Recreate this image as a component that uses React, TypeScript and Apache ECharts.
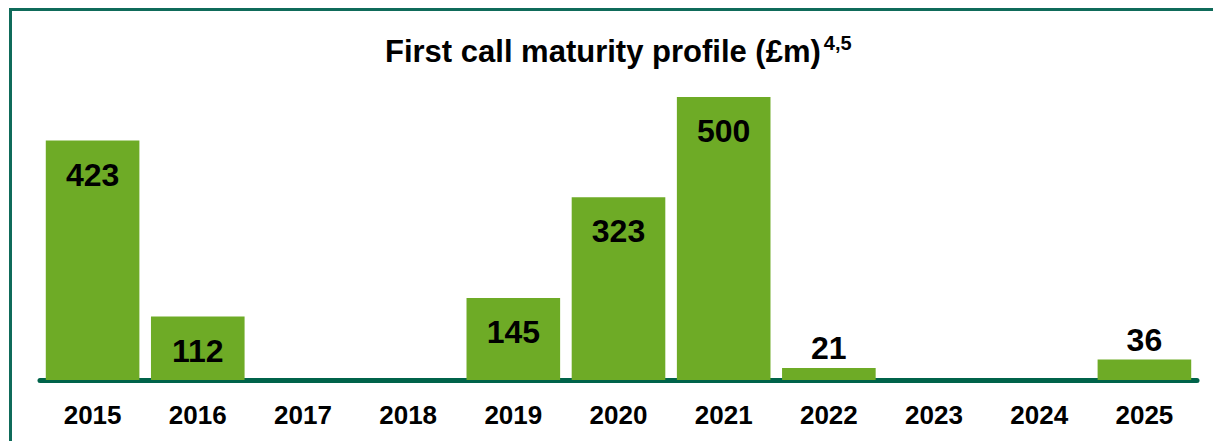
import React, { useEffect, useRef } from "react";
import * as echarts from "echarts";

const categories = ["2015", "2016", "2017", "2018", "2019", "2020", "2021", "2022", "2023", "2024", "2025"];
const values = [423, 112, 0, 0, 145, 323, 500, 21, 0, 0, 36];
const insideThreshold = 100;

export default function App() {
  const ref = useRef<HTMLDivElement>(null);
  useEffect(() => {
    const chart = echarts.init(ref.current!, null, { renderer: "svg" });
    const font = "'Liberation Sans', Arial, sans-serif";
    chart.setOption({
      animation: false,
      backgroundColor: "#ffffff",
      title: {
        text: "{a|First call maturity profile (£m)}{b|4,5}",
        left: 380,
        top: 28,
        textStyle: {
          rich: {
            a: { fontFamily: font, fontWeight: "bold", fontSize: 31, color: "#000000", lineHeight: 36 },
            b: { fontFamily: font, fontWeight: "bold", fontSize: 20, color: "#000000", verticalAlign: "top", lineHeight: 36, padding: [0, 0, 12, 3] },
          },
        },
      },
      graphic: [
        {
          type: "polyline",
          shape: { points: [[10.5, 441], [10.5, 9.5], [1213, 9.5]] },
          style: { stroke: "#0f6b5a", lineWidth: 3, fill: "none" },
        },
      ],
      grid: { left: 40, right: 16, top: 97, bottom: 61 },
      xAxis: {
        type: "category",
        data: categories,
        axisLine: { show: true, lineStyle: { color: "#00634a", width: 5 } },
        axisTick: { show: false },
        axisLabel: { fontFamily: font, fontWeight: "bold", fontSize: 26, color: "#000000", margin: 22 },
      },
      yAxis: {
        type: "value",
        min: 0,
        max: 500,
        show: false,
        splitLine: { show: false },
      },
      series: [
        {
          type: "bar",
          barCategoryGap: "11%",
          itemStyle: { color: "#6eab26" },
          data: values.map((v) => ({
            value: v,
            label: v >= insideThreshold
              ? { show: true, position: "insideTop", distance: 18 }
              : { show: v > 0, position: "top", distance: 4 },
          })),
          label: {
            fontFamily: font,
            fontWeight: "bold",
            fontSize: 32,
            color: "#000000",
          },
        },
      ],
    });
    return () => chart.dispose();
  }, []);
  return <div ref={ref} style={{ position: "fixed", left: 0, top: 0, width: 1213, height: 441 }} />;
}
